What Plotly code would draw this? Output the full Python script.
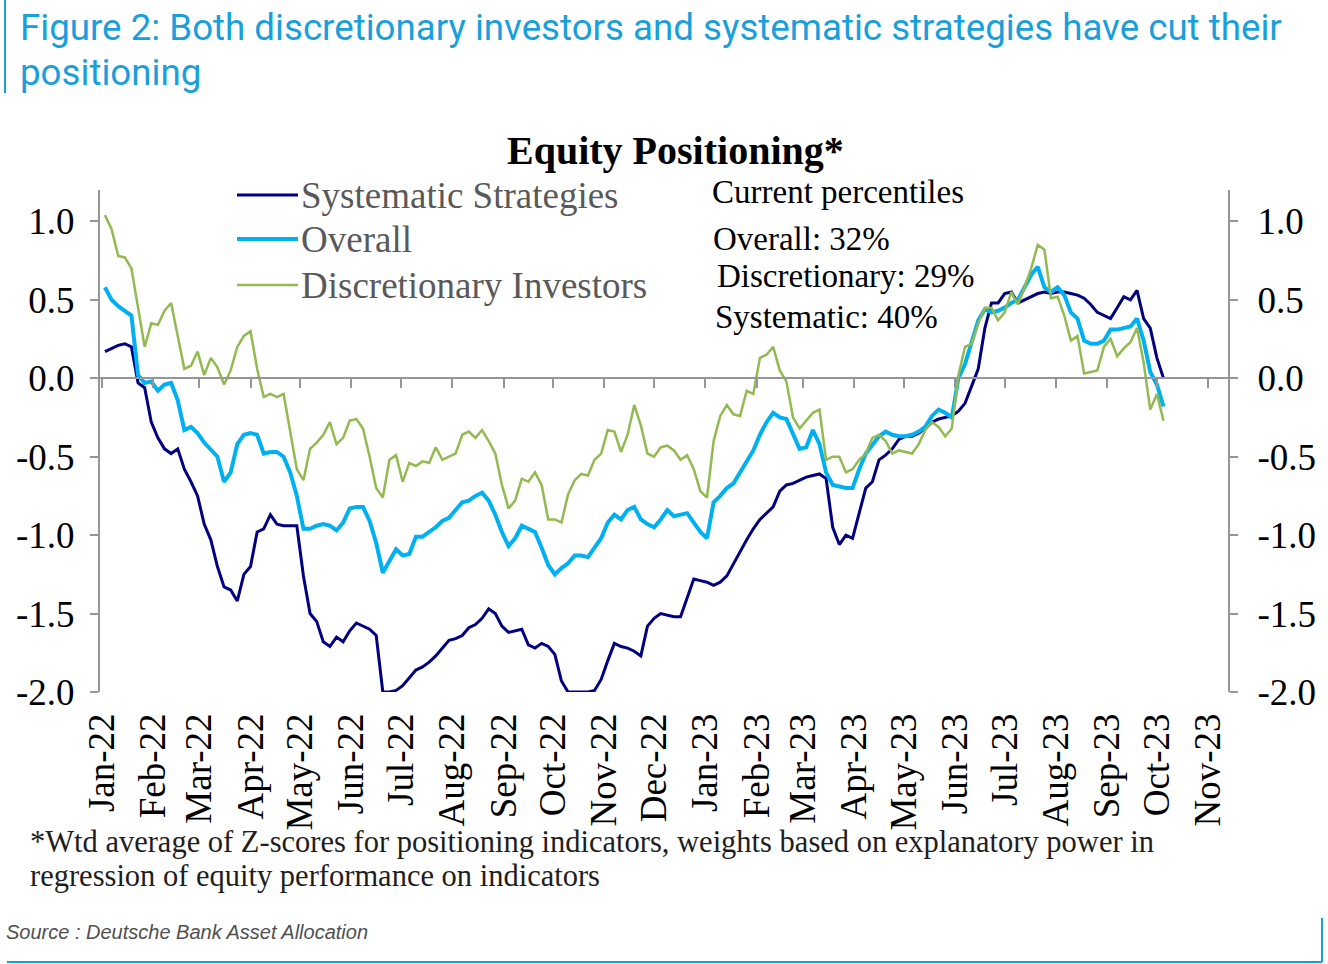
import pandas as pd
import plotly.graph_objects as go

# readings every 4 days from 3 Jan 2022 to early Oct 2023
systematic = [0.17, 0.19, 0.21, 0.22, 0.20, -0.03, -0.06, -0.28, -0.38, -0.45,
              -0.48, -0.45, -0.58, -0.66, -0.75, -0.93, -1.03, -1.20, -1.33, -1.35,
              -1.42, -1.25, -1.20, -0.98, -0.96, -0.87, -0.93, -0.94, -0.94, -0.94,
              -1.26, -1.50, -1.55, -1.68, -1.71, -1.65, -1.68, -1.61, -1.56, -1.58,
              -1.60, -1.64, -2.00, -2.00, -1.99, -1.96, -1.91, -1.86, -1.84, -1.81,
              -1.77, -1.72, -1.67, -1.66, -1.64, -1.59, -1.57, -1.53, -1.47, -1.50,
              -1.58, -1.62, -1.61, -1.60, -1.70, -1.72, -1.69, -1.71, -1.76, -1.93,
              -2.00, -2.00, -2.00, -2.00, -1.99, -1.92, -1.80, -1.69, -1.71, -1.72,
              -1.74, -1.77, -1.58, -1.53, -1.50, -1.51, -1.52, -1.52, -1.40, -1.28,
              -1.29, -1.30, -1.32, -1.30, -1.26, -1.18, -1.10, -1.03, -0.96, -0.90,
              -0.86, -0.82, -0.72, -0.68, -0.67, -0.65, -0.63, -0.62, -0.61, -0.64,
              -0.95, -1.06, -1.00, -1.02, -0.85, -0.70, -0.66, -0.52, -0.49, -0.45,
              -0.39, -0.37, -0.37, -0.35, -0.32, -0.28, -0.26, -0.25, -0.24, -0.21,
              -0.16, -0.05, 0.06, 0.32, 0.48, 0.48, 0.54, 0.55, 0.48, 0.50,
              0.52, 0.54, 0.55, 0.54, 0.55, 0.55, 0.54, 0.53, 0.51, 0.47,
              0.42, 0.40, 0.38, 0.45, 0.52, 0.50, 0.56, 0.38, 0.32, 0.13,
              0.00]

overall = [0.58, 0.50, 0.46, 0.43, 0.40, 0.02, -0.03, -0.02, -0.08, -0.04,
           -0.03, -0.14, -0.33, -0.31, -0.35, -0.41, -0.46, -0.50, -0.66, -0.60,
           -0.42, -0.36, -0.35, -0.36, -0.48, -0.47, -0.47, -0.50, -0.60, -0.75,
           -0.96, -0.96, -0.94, -0.93, -0.94, -0.97, -0.92, -0.83, -0.82, -0.82,
           -0.91, -1.05, -1.24, -1.16, -1.09, -1.13, -1.12, -1.01, -1.01, -0.98,
           -0.95, -0.91, -0.89, -0.84, -0.79, -0.78, -0.75, -0.73, -0.78, -0.87,
           -0.98, -1.07, -1.02, -0.94, -0.96, -0.98, -1.08, -1.19, -1.25, -1.21,
           -1.18, -1.13, -1.13, -1.14, -1.08, -1.02, -0.92, -0.87, -0.90, -0.84,
           -0.82, -0.90, -0.93, -0.95, -0.90, -0.84, -0.88, -0.87, -0.86, -0.92,
           -0.98, -1.02, -0.79, -0.75, -0.70, -0.67, -0.60, -0.52, -0.46, -0.36,
           -0.28, -0.22, -0.25, -0.26, -0.36, -0.45, -0.44, -0.33, -0.42, -0.60,
           -0.68, -0.69, -0.70, -0.70, -0.58, -0.48, -0.42, -0.37, -0.34, -0.36,
           -0.37, -0.37, -0.36, -0.34, -0.31, -0.24, -0.20, -0.22, -0.25, 0.00,
           0.09, 0.24, 0.37, 0.44, 0.42, 0.43, 0.45, 0.48, 0.50, 0.58,
           0.66, 0.71, 0.58, 0.55, 0.58, 0.53, 0.42, 0.38, 0.24, 0.22,
           0.22, 0.24, 0.31, 0.31, 0.32, 0.33, 0.38, 0.24, 0.04, -0.04,
           -0.18]

discretionary = [1.04, 0.95, 0.78, 0.77, 0.70, 0.45, 0.20, 0.35, 0.34, 0.43,
                 0.48, 0.27, 0.06, 0.08, 0.17, 0.02, 0.13, 0.07, -0.04, 0.05,
                 0.20, 0.27, 0.30, 0.06, -0.12, -0.10, -0.12, -0.10, -0.33, -0.58,
                 -0.65, -0.45, -0.41, -0.36, -0.28, -0.42, -0.38, -0.27, -0.26, -0.32,
                 -0.50, -0.70, -0.76, -0.52, -0.49, -0.66, -0.54, -0.56, -0.53, -0.54,
                 -0.44, -0.52, -0.50, -0.48, -0.36, -0.34, -0.38, -0.33, -0.40, -0.48,
                 -0.68, -0.83, -0.78, -0.64, -0.66, -0.60, -0.68, -0.90, -0.90, -0.92,
                 -0.74, -0.65, -0.61, -0.62, -0.52, -0.48, -0.33, -0.34, -0.47, -0.36,
                 -0.17, -0.30, -0.48, -0.50, -0.44, -0.43, -0.46, -0.52, -0.49, -0.58,
                 -0.72, -0.76, -0.40, -0.24, -0.17, -0.23, -0.24, -0.08, -0.10, 0.13,
                 0.15, 0.20, 0.05, -0.02, -0.25, -0.32, -0.27, -0.22, -0.20, -0.52,
                 -0.50, -0.50, -0.60, -0.58, -0.52, -0.48, -0.38, -0.36, -0.40, -0.48,
                 -0.46, -0.47, -0.48, -0.42, -0.33, -0.28, -0.31, -0.37, -0.32, 0.02,
                 0.20, 0.22, 0.35, 0.45, 0.45, 0.37, 0.42, 0.55, 0.47, 0.58,
                 0.70, 0.85, 0.82, 0.51, 0.52, 0.40, 0.24, 0.27, 0.03, 0.04,
                 0.05, 0.20, 0.25, 0.14, 0.19, 0.23, 0.32, 0.10, -0.20, -0.10,
                 -0.27]

dates = pd.date_range("2022-01-03", periods=len(systematic), freq="4D")

series_names = ["Systematic Strategies", "Overall", "Discretionary Investors"]
series_colors = ["rgb(0,0,128)", "rgb(0,176,240)", "rgb(146,186,80)"]
series_widths = [3, 4, 2.5]
percentile_lines = ["Current percentiles", "Overall: 32%", "Discretionary: 29%", "Systematic: 40%"]
y_ticks = [1.0, 0.5, 0.0, -0.5, -1.0, -1.5, -2.0]
y_labels = ["1.0", "0.5", "0.0", "-0.5", "-1.0", "-1.5", "-2.0"]

W, H = 1328, 964
L, R, T, B = 100, 100, 190, 272
SERIF = "Liberation Serif"
BLUE = "rgb(25,160,220)"
AXIS = "rgb(150,150,150)"


# pixel position -> paper fraction (layout only)
def px(x):
    return (x - L) / (W - L - R)


def py(y):
    return (H - B - y) / (H - T - B)


fig = go.Figure()
for name, vals, col, wid in zip(series_names, [systematic, overall, discretionary],
                                series_colors, series_widths):
    fig.add_trace(go.Scatter(x=dates, y=vals, name=name, mode="lines",
                             line=dict(color=col, width=wid)))
# carrier for the zero-line axis and the right-hand y axis
fig.add_trace(go.Scatter(x=dates[:1], y=[None], xaxis="x2", yaxis="y2",
                         showlegend=False, hoverinfo="skip"))

x_range = ["2021-12-31", "2023-11-13"]
y_range = [-2.0, 1.2]

fig.update_layout(
    width=W, height=H,
    margin=dict(l=L, r=R, t=T, b=B),
    paper_bgcolor="white", plot_bgcolor="white",
    font=dict(family=SERIF, size=37, color="black"),
    showlegend=False,
    xaxis=dict(range=x_range, dtick="M1", tick0="2022-01-01", tickformat="%b-%y",
               tickangle=-90, showgrid=False, zeroline=False, showline=False,
               ticks="", ticklabelstandoff=13, tickfont=dict(size=37, color="black")),
    xaxis2=dict(range=x_range, overlaying="x", anchor="free", position=py(378),
                dtick="M1", tick0="2022-01-01", showticklabels=False,
                showgrid=False, zeroline=False, showline=True, linecolor=AXIS, linewidth=2,
                ticks="outside", ticklen=9, tickwidth=2, tickcolor=AXIS),
    yaxis=dict(range=y_range, tickvals=y_ticks, ticktext=y_labels, showgrid=False,
               zeroline=False, showline=True, linecolor=AXIS, linewidth=2,
               ticks="outside", ticklen=8, tickwidth=2, tickcolor=AXIS,
               ticklabelstandoff=8, tickfont=dict(size=37, color="black")),
    yaxis2=dict(range=y_range, tickvals=y_ticks, ticktext=y_labels, overlaying="y",
                side="right", anchor="x", showgrid=False, zeroline=False, showline=True,
                linecolor=AXIS, linewidth=2, ticks="outside", ticklen=8, tickwidth=2,
                tickcolor=AXIS, ticklabelstandoff=12, tickfont=dict(size=37, color="black")),
)

annotations = [
    dict(text="Figure 2: Both discretionary investors and systematic strategies have cut their",
         x=px(18), y=py(27), font=dict(family="Roboto", size=36.7, color=BLUE)),
    dict(text="positioning", x=px(18), y=py(73), font=dict(family="Roboto", size=36.7, color=BLUE)),
    dict(text="<b>Equity Positioning*</b>", x=px(675), y=py(150), xanchor="center",
         font=dict(family=SERIF, size=40, color="black")),
    dict(text=percentile_lines[0], x=px(710), y=py(192), font=dict(family=SERIF, size=33, color="black")),
    dict(text=percentile_lines[1], x=px(711), y=py(239), font=dict(family=SERIF, size=33, color="black")),
    dict(text=percentile_lines[2], x=px(715), y=py(276), font=dict(family=SERIF, size=33, color="black")),
    dict(text=percentile_lines[3], x=px(713), y=py(317), font=dict(family=SERIF, size=33, color="black")),
    dict(text="*Wtd average of Z-scores for positioning indicators, weights based on explanatory power in",
         x=px(28), y=py(842), font=dict(family=SERIF, size=30.5, color="rgb(30,30,30)")),
    dict(text="regression of equity performance on indicators",
         x=px(28), y=py(876), font=dict(family=SERIF, size=30.5, color="rgb(30,30,30)")),
    dict(text="<i>Source : Deutsche Bank Asset Allocation</i>", x=px(4), y=py(932),
         font=dict(family="Liberation Sans", size=20, color="rgb(80,80,80)")),
]

# legend drawn by hand to get the tight row spacing of the original
legend_rows = [195, 239, 285]
for name, col, wid, row in zip(series_names, series_colors, series_widths, legend_rows):
    fig.add_shape(type="line", xref="paper", yref="paper", x0=px(237), x1=px(298),
                  y0=py(row), y1=py(row), line=dict(color=col, width=wid))
    annotations.append(dict(text=name, x=px(299), y=py(row),
                            font=dict(family=SERIF, size=37, color="rgb(89,89,89)")))

for a in annotations:
    a.setdefault("xanchor", "left")
    fig.add_annotation(xref="paper", yref="paper", yanchor="middle", showarrow=False, **a)

# frame lines of the report page
fig.add_shape(type="line", xref="paper", yref="paper", x0=px(5), x1=px(5), y0=py(0), y1=py(93),
              line=dict(color=BLUE, width=2))
fig.add_shape(type="line", xref="paper", yref="paper", x0=px(7), x1=px(1322), y0=py(962), y1=py(962),
              line=dict(color=BLUE, width=2))
fig.add_shape(type="line", xref="paper", yref="paper", x0=px(1322), x1=px(1322), y0=py(918), y1=py(962),
              line=dict(color=BLUE, width=2))

# drop the browser's default 8px page margin so the figure sits at the page origin
fig.write_html("out.html", config={"displayModeBar": False},
               post_script="document.body.style.margin='0';")
